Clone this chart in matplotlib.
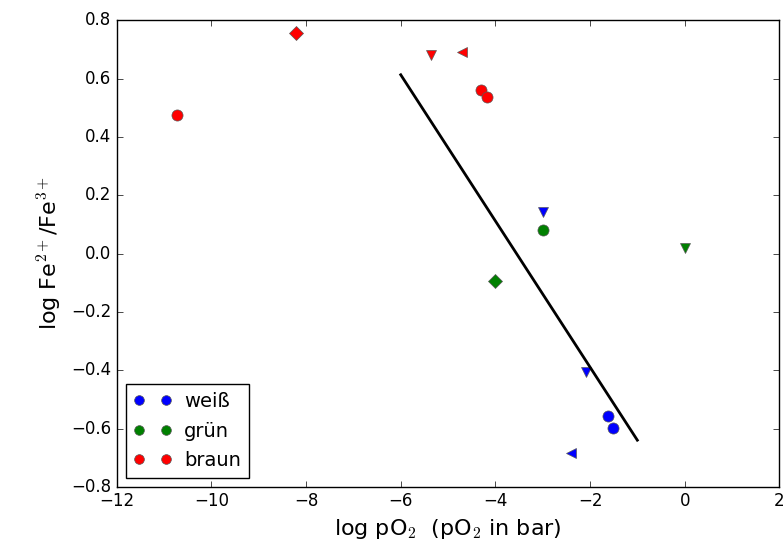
import matplotlib
matplotlib.use("Agg")
import matplotlib.pyplot as plt

plt.style.use("classic")

# data
weiss_x = [-3.0, -2.08, -1.62, -1.51, -2.40]
weiss_y = [0.142, -0.405, -0.556, -0.597, -0.683]
weiss_m = ["v", "v", "o", "o", "<"]

gruen_x = [-3.0, -4.01, 0.0]
gruen_y = [0.08, -0.094, 0.019]
gruen_m = ["o", "D", "v"]

braun_x = [-10.73, -8.22, -5.36, -4.71, -4.30, -4.18]
braun_y = [0.475, 0.755, 0.68, 0.69, 0.56, 0.536]
braun_m = ["o", "D", "v", "<", "o", "o"]

fit_x = [-6.0, -1.0]
fit_y = [0.613, -0.64]

series = [("weiß", "blue", weiss_x, weiss_y, weiss_m),
          ("grün", "green", gruen_x, gruen_y, gruen_m),
          ("braun", "red", braun_x, braun_y, braun_m)]

fig = plt.figure(figsize=(7.84, 5.47), dpi=100, facecolor="white")
ax = fig.add_axes([0.149, 0.110, 0.845, 0.853])

sizes = {"o": 8, "D": 7, "v": 7, "<": 7}
for name, col, xs, ys, ms in series:
    for x, y, m in zip(xs, ys, ms):
        ax.plot([x], [y], linestyle="none", marker=m, color=col,
                markersize=sizes[m], markeredgecolor="0.35", markeredgewidth=0.5)
    ax.plot([], [], linestyle="none", marker="o", color=col, markersize=7,
            markeredgecolor="0.35", markeredgewidth=0.5, label=name)

ax.plot(fit_x, fit_y, color="black", linewidth=2)

ax.set_xlim(-12, 2)
ax.set_ylim(-0.8, 0.8)
ax.set_xticks(range(-12, 3, 2))
ax.set_yticks([-0.8, -0.6, -0.4, -0.2, 0.0, 0.2, 0.4, 0.6, 0.8])
ax.tick_params(labelsize=12)
ax.set_xlabel(r"log pO$_2$  (pO$_2$ in bar)", fontsize=16)
ax.set_ylabel(r"log Fe$^{2+}$/Fe$^{3+}$", fontsize=16)
ax.legend(loc="lower left", numpoints=2, fontsize=14, borderaxespad=0.45,
          handletextpad=0.6, labelspacing=0.55)

fig.savefig("out.png", dpi=100, facecolor="white")
